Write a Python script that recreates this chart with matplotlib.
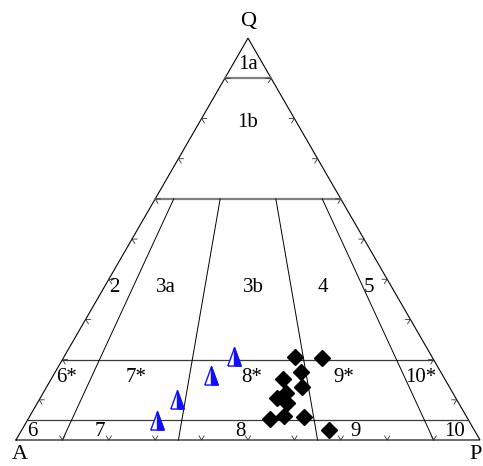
import numpy as np
import matplotlib
matplotlib.use("Agg")
import matplotlib.pyplot as plt

# ---- data (percent Q, A, P) ----
tri_Q = [20.4, 15.7, 9.7, 4.5]
tri_A = [42.8, 50.1, 60.4, 67.4]
tri_P = [36.8, 34.2, 29.9, 28.1]

dia_Q = [20.6, 20.4, 16.9, 15.2, 13.2, 11.7, 10.5, 9.2, 5.2, 6.0, 5.7, 2.5]
dia_A = [29.6, 23.9, 30.1, 34.9, 31.8, 36.0, 38.5, 37.0, 42.7, 39.3, 35.1, 31.3]
dia_P = [49.8, 55.7, 53.0, 49.9, 55.0, 52.3, 51.0, 53.8, 52.1, 54.7, 59.2, 66.2]

# field boundaries
q_levels = [0.90, 0.60, 0.20, 0.05]
p_ratios = [0.10, 0.35, 0.65, 0.90]

region_labels = ["1a", "1b", "2", "3a", "3b", "4", "5",
                 "6*", "7*", "8*", "9*", "10*", "6", "7", "8", "9", "10"]
# label anchor positions given as (Q fraction, P/(A+P) ratio)
region_pos = [(0.935, 0.50), (0.789, 0.50), (0.38, 0.037), (0.38, 0.215), (0.38, 0.52),
              (0.38, 0.761), (0.38, 0.921),
              (0.155, 0.036), (0.155, 0.215), (0.155, 0.51), (0.155, 0.745), (0.155, 0.941),
              (0.022, 0.025), (0.022, 0.174), (0.022, 0.483), (0.022, 0.738), (0.022, 0.955)]

S3 = np.sqrt(3) / 2


def tern(q, a, p):
    q, a, p = np.asarray(q, float), np.asarray(a, float), np.asarray(p, float)
    s = q + a + p
    q, p = q / s, p / s
    return p + q / 2, q * S3


def qr(q, r):
    p = (1 - q) * r
    return p + q / 2, q * S3


fig = plt.figure(figsize=(4.83, 4.66), dpi=100)
ax = fig.add_axes([0, 0, 1, 1])
ax.set_xlim(-16 / 464, 1 + 3 / 464)
ax.set_ylim(-26 / 464, -26 / 464 + 466 / 464)
ax.axis("off")

# triangle edges
ex, ey = tern([0, 0, 1, 0], [1, 0, 0, 1], [0, 1, 0, 0])
ax.plot(ex, ey, color="black", lw=0.8, solid_joinstyle="miter")

# horizontal boundaries
styles = {0.90: ("#808080", 1.6), 0.60: ("#808080", 1.6),
          0.20: ("#3a3a3a", 0.9), 0.05: ("#3a3a3a", 0.9)}
for q in q_levels:
    x0, y0 = qr(q, 0)
    x1, y1 = qr(q, 1)
    c, w = styles[q]
    ax.plot([x0, x1], [y0, y1], color=c, lw=w)

# ratio boundaries
for r in p_ratios:
    x0, y0 = qr(0.60, r)
    x1, y1 = qr(0.0, r)
    ax.plot([x0, x1], [y0, y1], color="black", lw=0.7)

# small tick chevrons every 10 %
L = 0.011
tick_kw = dict(color="#303030", lw=0.6)
for k in range(1, 10):
    f = k / 10
    bx, by = f, 0.0
    ax.plot([bx - L * 0.5, bx, bx + L * 0.5], [by + L * 0.8, by, by + L * 0.8], **tick_kw)
    lx, ly = qr(f, 0)
    ax.plot([lx + L, lx, lx + L * 0.55], [ly, ly, ly - L * 0.85], **tick_kw)
    rx, ry = qr(f, 1)
    ax.plot([rx - L, rx, rx - L * 0.55], [ry, ry, ry - L * 0.85], **tick_kw)

# region labels
font = ["Liberation Serif", "DejaVu Serif"]
for lab, (q, r) in zip(region_labels, region_pos):
    x, y = qr(q, r)
    ax.text(x, y, lab, family=font, fontsize=15, ha="center", va="center")

# vertex labels
ax.text(0.5, 0.903, "Q", family=font, fontsize=16, ha="center", va="center")
ax.text(0.008, -24 / 464, "A", family=font, fontsize=16, ha="center", va="bottom")
ax.text(1 + 2 / 464, -24 / 464, "P", family=font, fontsize=16, ha="right", va="bottom")

# data points
dx, dy = tern(dia_Q, dia_A, dia_P)
ax.plot(dx, dy, linestyle="none", marker="D", ms=8.5, color="black",
        markeredgecolor="black", zorder=5)

tri_full = [(-0.62, -0.7), (0.62, -0.7), (0.0, 1.0), (-0.62, -0.7)]
tri_half = [(0.0, -0.7), (0.62, -0.7), (0.0, 1.0), (0.0, -0.7)]
tx, ty = tern(tri_Q, tri_A, tri_P)
ax.plot(tx, ty, linestyle="none", marker=tri_full, ms=15.5,
        markerfacecolor="white", markeredgecolor="#1010ff",
        markeredgewidth=1.0, zorder=6)
ax.plot(tx, ty, linestyle="none", marker=tri_half, ms=15.5,
        markerfacecolor="#1010ff", markeredgecolor="#1010ff",
        markeredgewidth=1.0, zorder=7)

fig.savefig("out.png", dpi=100, facecolor="white")
